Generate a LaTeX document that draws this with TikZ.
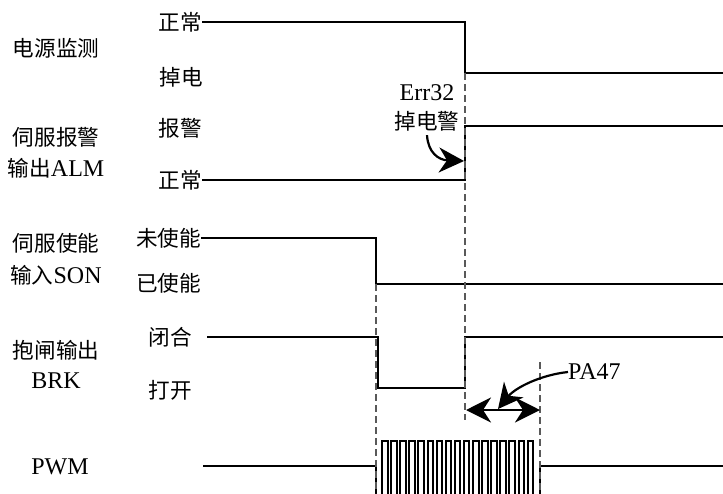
\documentclass[tikz,border=0pt]{standalone}
\usepackage{fontspec}
\setmainfont{Liberation Serif}
\newfontfamily\cjk[Scale=0.9]{Noto Sans CJK SC}
\usetikzlibrary{arrows.meta}

\begin{document}
\begin{tikzpicture}[x=1pt, y=-1pt, line join=miter,
  sig/.style={line width=2.9pt},
  pulse/.style={line width=2pt},
  guide/.style={line width=1.2pt, black!65, dash pattern=on 7pt off 4pt},
  lbl/.style={inner sep=0pt, font=\fontsize{24}{26}\selectfont},
  bigtip/.style={-{Stealth[length=25pt, width=25pt, inset=8pt]}},
  thin/.style={line width=2.2pt}]
  \useasboundingbox (0,0) rectangle (723,493);
  % signal names on the left
  \node[lbl] (pwr)  at (56,48)  {\cjk 电源监测};
  \node[lbl] (alm1) at (56,137) {\cjk 伺服报警};
  \node[lbl] (alm2) at (56,168) {{\cjk 输出}ALM};
  \node[lbl] (son1) at (56,243) {\cjk 伺服使能};
  \node[lbl] (son2) at (56,275) {{\cjk 输入}SON};
  \node[lbl] (brk1) at (56,350) {\cjk 抱闸输出};
  \node[lbl] (brk2) at (56,381) {BRK};
  \node[lbl] (pwm)  at (60,467) {PWM};
  % level names
  \node[lbl, anchor=east] (pwrhi) at (202,22)  {\cjk 正常};
  \node[lbl, anchor=east] (pwrlo) at (203,77)  {\cjk 掉电};
  \node[lbl, anchor=east] (almhi) at (202,128) {\cjk 报警};
  \node[lbl, anchor=east] (almlo) at (202,180) {\cjk 正常};
  \node[lbl, anchor=east] (sonhi) at (201,238) {\cjk 未使能};
  \node[lbl, anchor=east] (sonlo) at (201,283) {\cjk 已使能};
  \node[lbl] (brkhi) at (170,337) {\cjk 闭合};
  \node[lbl] (brklo) at (170,390) {\cjk 打开};
  \coordinate (pwmlo) at (203,466);
  % waveforms
  \draw[sig] (pwrhi.east) -- (465,22) -- (465,73) -- (723,73);
  \draw[sig] (almlo.east) -- (465,180) -- (465,126) -- (723,126);
  \draw[sig] (sonhi.east) -- (376,238) -- (376,284) -- (723,284);
  \draw[sig] (207,337) -- (378,337) -- (378,388) -- (465,388) -- (465,337) -- (723,337);
  \draw[sig] (pwmlo) -- (376,466);
  \draw[pulse] (376,466) -- (376,498)
    \foreach \i in {0,...,16} { -- ({382+9.1*\i},498) -- ++(0,-57) -- ++(5.5,0) -- ++(0,57) }
    -- (540,498) -- (540,466);
  \draw[sig] (540,466) -- (723,466);
  % timing guides
  \draw[guide] (465,73) -- (465,420);
  \draw[guide] (376,284) -- (376,493);
  \draw[guide] (540,362) -- (540,493);
  % alarm note
  \node[lbl] (err1) at (427,93)  {Err32};
  \node[lbl] (err2) at (427,121) {\cjk 掉电警};
  \coordinate (errtip) at (464,161);
  \draw[thin, bigtip] ([yshift=-4pt]err2.south) .. controls (428,152) and (438,160) .. (errtip);
  % brake delay
  \coordinate (dl) at (466,410);
  \coordinate (dr) at (540,410);
  \draw[sig, {Stealth[length=25pt, width=25pt, inset=8pt]}-{Stealth[length=25pt, width=25pt, inset=8pt]}] (dl) -- (dr);
  \node[lbl, anchor=west] (pa) at (568,372) {PA47};
  \coordinate (patip) at (498,409);
  \draw[thin, bigtip] (pa.west) .. controls (540,375) and (515,388) .. (patip);
\end{tikzpicture}
\end{document}
